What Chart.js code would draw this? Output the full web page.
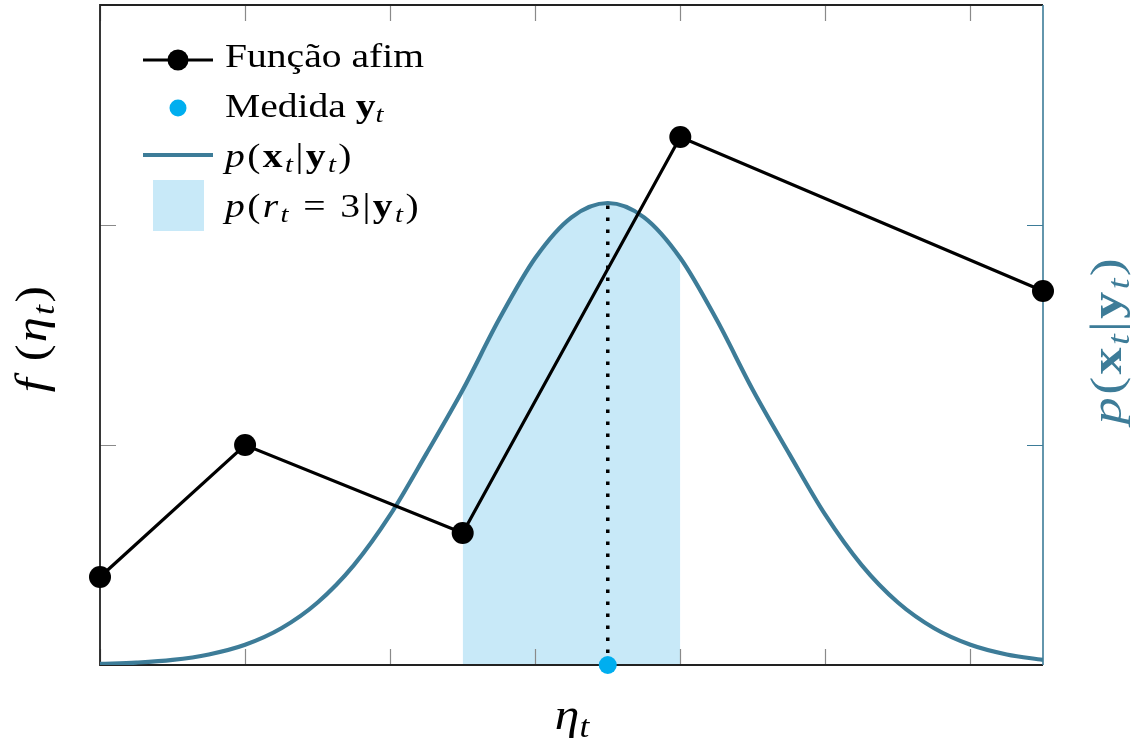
<!DOCTYPE html>
<html>
<head>
<meta charset="utf-8">
<script src="https://cdn.jsdelivr.net/npm/chart.js@4/dist/chart.umd.min.js"></script>
<style>
  html, body { margin: 0; padding: 0; background: #fff; }
  #wrap { position: relative; width: 1137px; height: 744px; }
  #chart { position: absolute; left: 0; top: 0; }
  #overlay { position: absolute; left: 0; top: 0; pointer-events: none; }
  #overlay text { font-family: 'Liberation Serif', 'DejaVu Serif', serif; fill: #000; }
  #overlay .math { letter-spacing: 2px; }
</style>
</head>
<body>
<div id="wrap">
  <canvas id="chart" width="1137" height="744"></canvas>
  <svg id="overlay" width="1137" height="744">
    <!-- legenda -->
    <line x1="143" y1="60" x2="213" y2="60" stroke="#000" stroke-width="3.2"/>
    <circle cx="178" cy="60" r="10.5" fill="#000"/>
    <circle cx="178" cy="108" r="8.5" fill="#00aeef"/>
    <line x1="143" y1="155" x2="213" y2="155" stroke="#3d7c98" stroke-width="4.2"/>
    <rect x="153" y="180" width="51" height="51" fill="#c8e9f8"/>

    <text transform="translate(225,67) scale(1.2,1)" font-size="33">Função afim</text>
    <text transform="translate(225,117) scale(1.2,1)" font-size="33">Medida <tspan font-weight="bold">y</tspan><tspan font-style="italic" font-size="24" dy="5">t</tspan></text>
    <text class="math" transform="translate(225,167) scale(1.2,1)" font-size="33"><tspan font-style="italic">p</tspan>(<tspan font-weight="bold">x</tspan><tspan font-style="italic" font-size="24" dy="5">t</tspan><tspan dy="-5">|</tspan><tspan font-weight="bold">y</tspan><tspan font-style="italic" font-size="24" dy="5">t</tspan><tspan dy="-5">)</tspan></text>
    <text class="math" transform="translate(225,217) scale(1.2,1)" font-size="33"><tspan font-style="italic">p</tspan>(<tspan font-style="italic">r</tspan><tspan font-style="italic" font-size="24" dy="5">t</tspan><tspan dy="-5"> = 3|</tspan><tspan font-weight="bold">y</tspan><tspan font-style="italic" font-size="24" dy="5">t</tspan><tspan dy="-5">)</tspan></text>

    <!-- títulos dos eixos -->
    <text transform="translate(572,729) scale(1.1,1)" font-size="45" text-anchor="middle"><tspan font-style="italic">η</tspan><tspan font-style="italic" font-size="32" dy="8">t</tspan></text>
    <text class="math" transform="translate(46,338) rotate(-90) scale(1.12,1)" font-size="45" text-anchor="middle"><tspan font-style="italic">f</tspan> (<tspan font-style="italic">η</tspan><tspan font-style="italic" font-size="32" dy="8">t</tspan><tspan dy="-8">)</tspan></text>
    <text class="math" transform="translate(1121,340) rotate(-90) scale(1.2,1)" font-size="45" text-anchor="middle" style="fill:#3d7c98"><tspan font-style="italic">p</tspan>(<tspan font-weight="bold">x</tspan><tspan font-style="italic" font-size="32" dy="8">t</tspan><tspan dy="-8">|</tspan><tspan font-weight="bold">y</tspan><tspan font-style="italic" font-size="32" dy="8">t</tspan><tspan dy="-8">)</tspan></text>
  </svg>
</div>
<script>
// função afim por partes
const affineX = [0, 1, 2.5, 4, 6.5];
const affineY = [0.4, 1.0, 0.6, 2.4, 1.7];

// densidade p(x_t|y_t)
const pdfX = [0, 0.25, 0.5, 0.75, 1, 1.25, 1.5, 1.75, 2, 2.25, 2.5, 2.75, 3, 3.25, 3.5,
              3.75, 4, 4.25, 4.5, 4.75, 5, 5.25, 5.5, 5.75, 6, 6.25, 6.5];
const pdfY = [0.005, 0.011, 0.023, 0.048, 0.092, 0.167, 0.284, 0.454, 0.682, 0.961, 1.25, 1.57, 1.85, 2.035, 2.1,
              2.035, 1.85, 1.57, 1.25, 0.961, 0.682, 0.454, 0.284, 0.167, 0.092, 0.048, 0.023];

// região sombreada p(r_t = 3|y_t)
const regionFrom = 2.5;
const regionTo = 4;

// medida y_t
const measX = [3.5];
const measY = [0];

// marcas dos eixos
const xTicks = [0, 1, 2, 3, 4, 5, 6];
const yTicks = [1, 2];

const TEAL = '#3d7c98';

const toPts = (xs, ys) => xs.map((x, i) => ({ x, y: ys[i] }));
const pdfPts = toPts(pdfX, pdfY);
const regionPts = pdfPts.filter(p => p.x >= regionFrom && p.x <= regionTo);
const peakY = Math.max(...pdfY);

// moldura e ticks para dentro (desenhados logo depois da região sombreada)
const framePlugin = {
  id: 'frame',
  afterDatasetDraw(chart, args) {
    if (args.index !== 4) return;
    const { ctx, chartArea: a, scales: { x, y } } = chart;
    ctx.save();
    const tl = 16;
    ctx.strokeStyle = '#8a8a8a';
    ctx.lineWidth = 1.2;
    ctx.beginPath();
    xTicks.forEach(v => {
      const px = Math.round(x.getPixelForValue(v)) + 0.5;
      ctx.moveTo(px, a.bottom); ctx.lineTo(px, a.bottom - tl);
      ctx.moveTo(px, a.top); ctx.lineTo(px, a.top + tl);
    });
    yTicks.forEach(v => {
      const py = Math.round(y.getPixelForValue(v)) + 0.5;
      ctx.moveTo(a.left, py); ctx.lineTo(a.left + tl, py);
    });
    ctx.stroke();
    ctx.strokeStyle = TEAL;
    ctx.beginPath();
    yTicks.forEach(v => {
      const py = Math.round(y.getPixelForValue(v)) + 0.5;
      ctx.moveTo(a.right, py); ctx.lineTo(a.right - tl, py);
    });
    ctx.stroke();

    ctx.lineWidth = 1.8;
    ctx.strokeStyle = '#222';
    ctx.beginPath();
    ctx.moveTo(a.right, a.top); ctx.lineTo(a.left, a.top); ctx.lineTo(a.left, a.bottom); ctx.lineTo(a.right, a.bottom);
    ctx.stroke();
    ctx.strokeStyle = TEAL;
    ctx.lineWidth = 1.6;
    ctx.beginPath();
    ctx.moveTo(a.right, a.top); ctx.lineTo(a.right, a.bottom);
    ctx.stroke();
    ctx.restore();
  }
};

new Chart(document.getElementById('chart').getContext('2d'), {
  type: 'scatter',
  data: {
    datasets: [
      {
        // medida y_t
        data: toPts(measX, measY),
        showLine: false,
        pointRadius: 9,
        pointBackgroundColor: '#00aeef',
        pointBorderWidth: 0,
        clip: false
      },
      {
        // função afim
        data: toPts(affineX, affineY),
        showLine: true,
        borderColor: '#000',
        borderWidth: 3.2,
        pointRadius: 11,
        pointBackgroundColor: '#000',
        pointBorderWidth: 0,
        clip: false
      },
      {
        // linha pontilhada até o pico
        data: [{ x: measX[0], y: 0 }, { x: measX[0], y: peakY }],
        showLine: true,
        borderColor: '#000',
        borderWidth: 3.5,
        borderDash: [3.5, 8.5],
        pointRadius: 0
      },
      {
        // p(x_t|y_t)
        data: pdfPts,
        showLine: true,
        borderColor: TEAL,
        borderWidth: 4.2,
        pointRadius: 0,
        cubicInterpolationMode: 'monotone'
      },
      {
        // p(r_t = 3|y_t)
        data: regionPts,
        showLine: true,
        borderWidth: 0,
        borderColor: 'rgba(0,0,0,0)',
        backgroundColor: '#c8e9f8',
        fill: 'origin',
        pointRadius: 0,
        cubicInterpolationMode: 'monotone'
      }
    ]
  },
  options: {
    responsive: false,
    devicePixelRatio: 1,
    animation: false,
    layout: { autoPadding: false, padding: { left: 100, right: 94, top: 5, bottom: 79 } },
    scales: {
      x: { type: 'linear', min: 0, max: 6.5, display: false },
      y: { type: 'linear', min: 0, max: 3, display: false }
    },
    plugins: {
      legend: { display: false },
      tooltip: { enabled: false }
    }
  },
  plugins: [framePlugin]
});
</script>
</body>
</html>
